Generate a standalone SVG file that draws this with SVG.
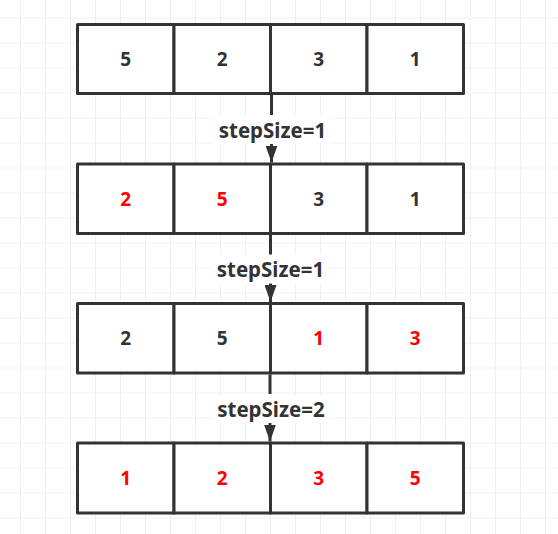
<svg xmlns="http://www.w3.org/2000/svg" width="558" height="534" viewBox="0 0 558 534">
<defs>
<pattern id="grid" x="20" y="17.5" width="25" height="25" patternUnits="userSpaceOnUse">
<path d="M0,0 H25 M0,0 V25" fill="none" stroke="#ebebeb" stroke-width="1.5"/>
</pattern>
<marker id="arr" viewBox="0 0 17 12" refX="17" refY="6" markerWidth="17" markerHeight="12" markerUnits="userSpaceOnUse" orient="auto">
<path d="M0,0 L17,6 L0,12 z" fill="#333"/>
</marker>
<style>
.box{fill:#fff;stroke:#333;stroke-width:3;stroke-linejoin:round}
.n{font-family:"Noto Sans","Open Sans",sans-serif;font-weight:bold;font-size:19px;text-anchor:middle;dominant-baseline:central;fill:#333}
.r{fill:#ff0000}
.lbl{font-family:"Noto Sans","Open Sans",sans-serif;font-weight:bold;font-size:20.5px;text-anchor:middle;dominant-baseline:central;fill:#333}
.conn{stroke:#333;stroke-width:3;fill:none}
</style>
</defs>
<rect width="558" height="534" fill="#fff"/>
<rect width="558" height="534" fill="url(#grid)"/>

<g id="row1">
<g id="r1c1"><rect class="box" x="77.5" y="24.5" width="96.5" height="69"/><text class="n" x="125.75" y="59">5</text></g>
<g id="r1c2"><rect class="box" x="174" y="24.5" width="96.5" height="69"/><text class="n" x="222.25" y="59">2</text></g>
<g id="r1c3"><rect class="box" x="270.5" y="24.5" width="96.5" height="69"/><text class="n" x="318.75" y="59">3</text></g>
<g id="r1c4"><rect class="box" x="367" y="24.5" width="96.5" height="69"/><text class="n" x="415.25" y="59">1</text></g>
</g>
<g id="row2">
<g id="r2c1"><rect class="box" x="77.5" y="164" width="96.5" height="69.5"/><text class="n r" x="125.75" y="198.5">2</text></g>
<g id="r2c2"><rect class="box" x="174" y="164" width="96.5" height="69.5"/><text class="n r" x="222.25" y="198.5">5</text></g>
<g id="r2c3"><rect class="box" x="270.5" y="164" width="96.5" height="69.5"/><text class="n" x="318.75" y="198.5">3</text></g>
<g id="r2c4"><rect class="box" x="367" y="164" width="96.5" height="69.5"/><text class="n" x="415.25" y="198.5">1</text></g>
</g>
<g id="row3">
<g id="r3c1"><rect class="box" x="77.5" y="303.5" width="96.5" height="69.5"/><text class="n" x="125.75" y="338">2</text></g>
<g id="r3c2"><rect class="box" x="174" y="303.5" width="96.5" height="69.5"/><text class="n" x="222.25" y="338">5</text></g>
<g id="r3c3"><rect class="box" x="270.5" y="303.5" width="96.5" height="69.5"/><text class="n r" x="318.75" y="338">1</text></g>
<g id="r3c4"><rect class="box" x="367" y="303.5" width="96.5" height="69.5"/><text class="n r" x="415.25" y="338">3</text></g>
</g>
<g id="row4">
<g id="r4c1"><rect class="box" x="77.5" y="443" width="96.5" height="70"/><text class="n r" x="125.75" y="478">1</text></g>
<g id="r4c2"><rect class="box" x="174" y="443" width="96.5" height="70"/><text class="n r" x="222.25" y="478">2</text></g>
<g id="r4c3"><rect class="box" x="270.5" y="443" width="96.5" height="70"/><text class="n r" x="318.75" y="478">3</text></g>
<g id="r4c4"><rect class="box" x="367" y="443" width="96.5" height="70"/><text class="n r" x="415.25" y="478">5</text></g>
</g>

<g id="connectors">
<g id="c1">
<line class="conn" x1="271.5" y1="95" x2="271.5" y2="162.5" marker-end="url(#arr)"/>
<rect x="214" y="115" width="116" height="29" fill="#fff"/>
<text class="lbl" x="272.5" y="129.5">stepSize=1</text>
</g>
<g id="c2">
<line class="conn" x1="270.5" y1="235" x2="270.5" y2="302" marker-end="url(#arr)"/>
<rect x="212.5" y="254.5" width="116" height="29" fill="#fff"/>
<text class="lbl" x="270.5" y="269">stepSize=1</text>
</g>
<g id="c3">
<line class="conn" x1="270" y1="374.5" x2="270" y2="441.5" marker-end="url(#arr)"/>
<rect x="213" y="394" width="116" height="29" fill="#fff"/>
<text class="lbl" x="271" y="408.5">stepSize=2</text>
</g>
</g>
</svg>
